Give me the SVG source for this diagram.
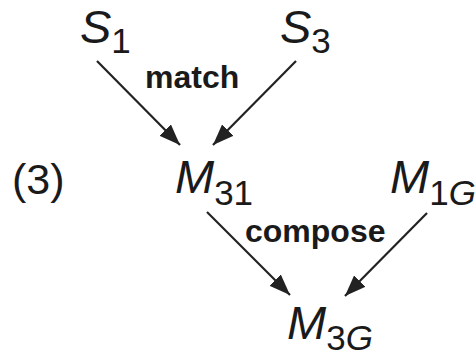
<svg xmlns="http://www.w3.org/2000/svg" width="476" height="359" viewBox="0 0 476 359">
<defs>
<style>
.lbl{font-family:"Liberation Sans",Arial,sans-serif;fill:#1a1a1a}
.var{font-style:italic;font-size:47px}
.sub{font-size:35px;font-style:normal}
.it{font-style:italic}
.op{font-weight:bold;font-size:32px}
.edge{stroke:#222;stroke-width:2.2;fill:none;marker-end:url(#ah)}
</style>
<marker id="ah" markerUnits="userSpaceOnUse" markerWidth="22" markerHeight="16" refX="21" refY="8" orient="auto">
<path d="M0,0 L21,8 L0,16 z" fill="#222"/>
</marker>
</defs>
<rect width="476" height="359" fill="#fff"/>
<g id="edges">
<line class="edge" x1="97" y1="61" x2="180" y2="145"/>
<line class="edge" x1="296" y1="61" x2="213" y2="145"/>
<line class="edge" x1="207" y1="212" x2="290" y2="295"/>
<line class="edge" x1="427" y1="213" x2="345" y2="296"/>
<text class="lbl op" x="145" y="88">match</text>
<text class="lbl op" x="245" y="242">compose</text>
</g>
<g id="S1"><text class="lbl var" x="80" y="43">S<tspan class="sub" dy="10">1</tspan></text></g>
<g id="S3"><text class="lbl var" x="280" y="43">S<tspan class="sub" dy="10">3</tspan></text></g>
<g id="label3"><text class="lbl" x="12" y="194" font-size="43">(3)</text></g>
<g id="M31"><text class="lbl var" x="175" y="193">M<tspan class="sub" dy="12">31</tspan></text></g>
<g id="M1G"><text class="lbl var" x="390" y="193">M<tspan class="sub" dy="12">1<tspan class="it">G</tspan></tspan></text></g>
<g id="M3G"><text class="lbl var" x="287" y="339">M<tspan class="sub" dy="11">3<tspan class="it">G</tspan></tspan></text></g>
</svg>
